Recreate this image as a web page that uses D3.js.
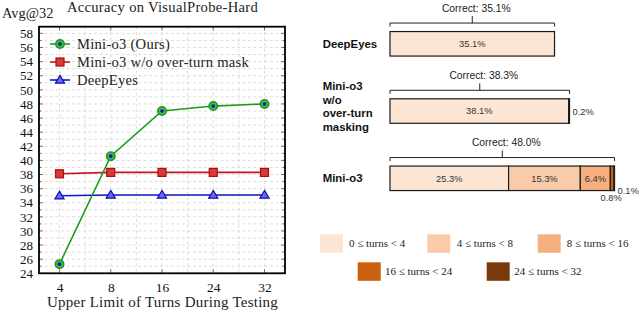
<!DOCTYPE html>
<html><head><meta charset="utf-8">
<script src="https://cdn.jsdelivr.net/npm/d3@7"></script>
<style>body{margin:0;background:#fff}svg{display:block}</style>
</head><body>
<svg id="c" width="640" height="310"></svg>
<script>
// ---------- data ----------
const turns = ["4", "8", "16", "24", "32"];
const miniO3 = [25.3, 40.6, 47.0, 47.7, 48.0];
const miniO3NoMask = [38.1, 38.3, 38.3, 38.3, 38.3];
const deepEyes = [35.0, 35.1, 35.1, 35.1, 35.1];
const seriesNames = ["Mini-o3 (Ours)", "Mini-o3 w/o over-turn mask", "DeepEyes"];
const yTicks = [24, 26, 28, 30, 32, 34, 36, 38, 40, 42, 44, 46, 48, 50, 52, 54, 56, 58];

const barCats = ["DeepEyes", "Mini-o3 w/o over-turn masking", "Mini-o3"];
const barCatLines = [["DeepEyes"], ["Mini-o3", "w/o", "over-turn", "masking"], ["Mini-o3"]];
const binNames = ["0 ≤ turns < 4", "4 ≤ turns < 8", "8 ≤ turns < 16", "16 ≤ turns < 24", "24 ≤ turns < 32"];
const deepEyesBins = [35.1, 0, 0, 0, 0];
const noMaskBins = [38.1, 0.2, 0, 0, 0];
const miniO3Bins = [25.3, 15.3, 6.4, 0.8, 0.1];
const correctTotals = [35.1, 38.3, 48.0];

// ---------- setup ----------
const svg = d3.select("#c");
const serif = "'Liberation Serif', 'Times New Roman', serif";
const sans = "'Liberation Sans', Arial, sans-serif";

// ================= LEFT: line chart =================
const L = {x0: 39, x1: 285, y0: 26.7, y1: 273.3};
const x = d3.scalePoint().domain(turns).range([L.x0, L.x1]).padding(0.4);
const y = d3.scaleLinear().domain([24, 58.95]).range([L.y1, L.y0]);

const g = svg.append("g");
// grid
const minorY = d3.range(24, 59, 1);
g.selectAll(".hg").data(minorY).join("line")
  .attr("x1", L.x0).attr("x2", L.x1).attr("y1", d => y(d)).attr("y2", d => y(d))
  .attr("stroke", "#d4d4d4").attr("stroke-width", 0.8).attr("stroke-dasharray", "3,2.5");
const step = x.step();
const vx = [];
turns.forEach(t => { vx.push(x(t)); vx.push(x(t) + step / 2); });
vx.unshift(x(turns[0]) - step / 2);
g.selectAll(".vg").data(vx.filter(v => v > L.x0 + 1 && v < L.x1 - 1)).join("line")
  .attr("x1", d => d).attr("x2", d => d).attr("y1", L.y0).attr("y2", L.y1)
  .attr("stroke", "#d4d4d4").attr("stroke-width", 0.8).attr("stroke-dasharray", "3,2.5");

// axes (labels)
const yAxis = d3.axisLeft(y).tickValues(yTicks).tickSize(0).tickPadding(6).tickFormat(d3.format("d"));
const ya = g.append("g").attr("transform", `translate(${L.x0},0)`).call(yAxis);
ya.select(".domain").remove();
ya.selectAll("text").attr("font-family", serif).attr("font-size", 13).attr("fill", "#111");
const xAxis = d3.axisBottom(x).tickSize(0).tickPadding(9);
const xa = g.append("g").attr("transform", `translate(0,${L.y1})`).call(xAxis);
xa.select(".domain").remove();
xa.selectAll("text").attr("font-family", serif).attr("font-size", 13.5).attr("fill", "#111");

// inner tick marks
g.selectAll(".yt").data(minorY).join("line")
  .attr("x1", L.x0).attr("x2", d => L.x0 + (d % 2 === 0 ? 4 : 2.5))
  .attr("y1", d => y(d)).attr("y2", d => y(d)).attr("stroke", "#444").attr("stroke-width", 0.7);
g.selectAll(".yt2").data(minorY).join("line")
  .attr("x1", L.x1).attr("x2", d => L.x1 - (d % 2 === 0 ? 4 : 2.5))
  .attr("y1", d => y(d)).attr("y2", d => y(d)).attr("stroke", "#444").attr("stroke-width", 0.7);
g.selectAll(".xt").data(turns).join("line")
  .attr("x1", d => x(d)).attr("x2", d => x(d)).attr("y1", L.y1).attr("y2", L.y1 - 4)
  .attr("stroke", "#444").attr("stroke-width", 0.7);
g.selectAll(".xt2").data(turns).join("line")
  .attr("x1", d => x(d)).attr("x2", d => x(d)).attr("y1", L.y0).attr("y2", L.y0 + 4)
  .attr("stroke", "#444").attr("stroke-width", 0.7);

// frame
g.append("rect").attr("x", L.x0).attr("y", L.y0).attr("width", L.x1 - L.x0).attr("height", L.y1 - L.y0)
  .attr("fill", "none").attr("stroke", "#000").attr("stroke-width", 1.8);

// series
const colGreen = "#1c9c1c", colRed = "#c41616", colBlue = "#1414c4";
const line = d3.line().x((d, i) => x(turns[i])).y(d => y(d));
const series = [
  {vals: miniO3NoMask, color: colRed, marker: "square"},
  {vals: deepEyes, color: colBlue, marker: "triangle"},
  {vals: miniO3, color: colGreen, marker: "circle"}
];
function drawMarker(sel, type, cx, cy) {
  if (type === "circle") {
    sel.append("circle").attr("cx", cx).attr("cy", cy).attr("r", 4.2)
      .attr("fill", "#49b649").attr("stroke", colGreen).attr("stroke-width", 1.6);
    sel.append("circle").attr("cx", cx).attr("cy", cy).attr("r", 1.8).attr("fill", "#1010d0");
  } else if (type === "square") {
    sel.append("rect").attr("x", cx - 4).attr("y", cy - 4).attr("width", 8).attr("height", 8)
      .attr("fill", "#d63a3a").attr("stroke", "#b00c0c").attr("stroke-width", 1.2);
  } else {
    const s = 4.6;
    sel.append("path").attr("d", `M${cx},${cy - s}L${cx + s},${cy + s * 0.7}L${cx - s},${cy + s * 0.7}Z`)
      .attr("fill", "#6a6aee").attr("stroke", "#1010b8").attr("stroke-width", 1.2);
  }
}
series.forEach(s => {
  g.append("path").datum(s.vals).attr("d", line).attr("fill", "none")
    .attr("stroke", s.color).attr("stroke-width", 1.6);
  const mg = g.append("g");
  s.vals.forEach((v, i) => drawMarker(mg, s.marker, x(turns[i]), y(v)));
});

// legend
const legCols = [colGreen, colRed, colBlue];
const legMarks = ["circle", "square", "triangle"];
seriesNames.forEach((n, i) => {
  const ly = 44 + i * 18;
  g.append("line").attr("x1", 50).attr("x2", 70).attr("y1", ly).attr("y2", ly)
    .attr("stroke", legCols[i]).attr("stroke-width", 1.6);
  drawMarker(g, legMarks[i], 60, ly);
  g.append("text").attr("x", 77).attr("y", ly + 4.5).text(n)
    .attr("font-family", serif).attr("font-size", 14.6).attr("letter-spacing", 0.25).attr("fill", "#222");
});

// titles
g.append("text").attr("x", 162.5).attr("y", 11.5).attr("text-anchor", "middle")
  .text("Accuracy on VisualProbe-Hard").attr("font-family", serif).attr("font-size", 14.6)
  .attr("letter-spacing", 0.3).attr("fill", "#222");
g.append("text").attr("x", 2).attr("y", 17.5).text("Avg@32")
  .attr("font-family", serif).attr("font-size", 14.4).attr("fill", "#222");
g.append("text").attr("x", 162.5).attr("y", 306.5).attr("text-anchor", "middle")
  .text("Upper Limit of Turns During Testing").attr("font-family", serif).attr("font-size", 15)
  .attr("letter-spacing", 0.25).attr("fill", "#222");

// ================= RIGHT: stacked bars =================
const R = svg.append("g");
const bx = d3.scaleLinear().domain([0, 48.0]).range([390, 615]);
const by = d3.scalePoint().domain(barCats).range([43.8, 178.3]);
const barH = 24.5;
const binColors = ["#fde5d4", "#f9cba8", "#f6b07f", "#c8600f", "#7b3a0c"];
const barData = [deepEyesBins, noMaskBins, miniO3Bins];

barCats.forEach((cat, ci) => {
  const cy = by(cat);
  const top = cy - barH / 2;
  let acc = 0;
  const segs = barData[ci].map((v, bi) => { const s = {v, bi, a: acc}; acc += v; return s; }).filter(s => s.v > 0);
  R.selectAll(null).data(segs).join("rect")
    .attr("x", d => bx(d.a)).attr("y", top)
    .attr("width", d => bx(d.a + d.v) - bx(d.a)).attr("height", barH)
    .attr("fill", d => binColors[d.bi]).attr("stroke", "#1a1a1a").attr("stroke-width", 1.2);
  // in-bar labels for big segments
  segs.filter(d => d.v >= 5).forEach(d => {
    R.append("text").attr("x", (bx(d.a) + bx(d.a + d.v)) / 2).attr("y", cy + 3.3)
      .attr("text-anchor", "middle").text(d.v.toFixed(1) + "%")
      .attr("font-family", sans).attr("font-size", 9.3).attr("fill", "#333");
  });
  // small segment labels
  const small = segs.filter(d => d.v < 5);
  small.forEach((d, k) => {
    const isLast = k === small.length - 1;
    let tx, ty, anchor;
    if (small.length === 1 || isLast) {
      tx = bx(d.a + d.v) + 3; ty = small.length === 1 ? cy + 4 : cy + 15.5; anchor = "start";
    } else {
      tx = (bx(d.a) + bx(d.a + d.v)) / 2 - 1; ty = cy + 23; anchor = "middle";
    }
    R.append("text").attr("x", tx).attr("y", ty).attr("text-anchor", anchor)
      .text(d.v.toFixed(1) + "%").attr("font-family", sans).attr("font-size", 9.3).attr("fill", "#333");
  });
  // bracket
  const bEnd = bx(acc), bStart = bx(0), bl = top - 8.5, mid = (bStart + bEnd) / 2;
  R.append("path")
    .attr("d", `M${bStart},${bl + 3.5}V${bl}H${bEnd}V${bl + 3.5}M${mid},${bl}V${bl - 7}`)
    .attr("fill", "none").attr("stroke", "#222").attr("stroke-width", 1);
  R.append("text").attr("x", mid + 4).attr("y", bl - 11.5).attr("text-anchor", "middle")
    .text("Correct: " + correctTotals[ci].toFixed(1) + "%")
    .attr("font-family", sans).attr("font-size", 10.3).attr("fill", "#222");
  // category label
  const lines = barCatLines[ci];
  const y0 = lines.length === 1 ? cy + 4 : cy - 21;
  lines.forEach((ln, li) => {
    R.append("text").attr("x", 322.7).attr("y", y0 + li * 13.6).text(ln)
      .attr("font-family", sans).attr("font-weight", "bold").attr("font-size", 11.4).attr("fill", "#111");
  });
});

// legend
const legPos = [
  {sx: 320, tx: 349, sy: 234.3},
  {sx: 427.3, tx: 456.7, sy: 234.3},
  {sx: 537.7, tx: 566.7, sy: 234.3},
  {sx: 357.7, tx: 385, sy: 262.3},
  {sx: 486.7, tx: 514.3, sy: 262.3}
];
binNames.forEach((n, i) => {
  const p = legPos[i];
  R.append("rect").attr("x", p.sx).attr("y", p.sy).attr("width", 23).attr("height", 18.5)
    .attr("fill", binColors[i]);
  R.append("text").attr("x", p.tx).attr("y", p.sy + 13).text(n)
    .attr("font-family", serif).attr("font-size", 11).attr("fill", "#222");
});
</script>
</body></html>
